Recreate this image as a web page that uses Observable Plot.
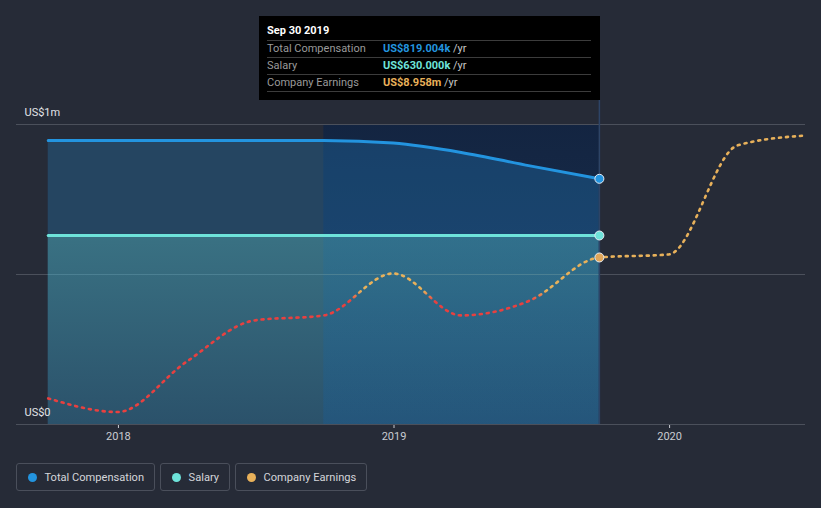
<!DOCTYPE html>
<html>
<head>
<meta charset="utf-8">
<script src="https://cdn.jsdelivr.net/npm/d3@7"></script>
<script src="https://cdn.jsdelivr.net/npm/@observablehq/plot@0.6"></script>
<style>
  html, body { margin: 0; padding: 0; background: #262b37; }
  #wrap { position: relative; width: 821px; height: 508px; font-family: Roboto, "Noto Sans", sans-serif; overflow: hidden; }
  #tip { position: absolute; left: 259px; top: 16px; width: 324px; height: 84px; padding: 0 9px 0 8px; background: #000; font-size: 11px; }
  #tip .title { margin-top: 6px; height: 18px; line-height: 18px; color: #fff; font-weight: bold; border-bottom: 1px solid #3c3c3c; }
  #tip .row { height: 16px; line-height: 16px; border-bottom: 1px solid #3c3c3c; display: flex; white-space: nowrap; }
  #tip .lab { width: 116px; color: #9a9a9a; }
  #tip .val { font-weight: bold; }
  #tip .unit { color: #c8c8c8; }
  #legend { position: absolute; left: 16px; top: 463px; display: flex; gap: 5px; }
  #legend .item { height: 28px; border: 1px solid #4a4f5b; border-radius: 3px; display: flex; align-items: center; padding: 0 10px 0 11px; font-size: 11.1px; color: #d4d6da; box-sizing: border-box; white-space: nowrap; }
  #legend .dot { width: 9px; height: 9px; border-radius: 50%; margin-right: 7.5px; flex: none; }
</style>
</head>
<body>
<div id="wrap">
  <div id="chart"></div>
  <div id="tip"></div>
  <div id="legend"></div>
</div>
<script>
// ---- data ----
const compDates = ["2017-09-30","2017-12-31","2018-03-31","2018-06-30","2018-09-30","2018-12-31","2019-03-31","2019-06-30","2019-09-30"];
const compValues = [947000, 947000, 947000, 947000, 947000, 938000, 907000, 862000, 819004];
const salaryDates = ["2017-09-30","2019-09-30"];
const salaryValues = [630000, 630000];
const earnDates = ["2017-09-30","2017-12-31","2018-03-31","2018-06-30","2018-09-30","2018-12-31","2019-03-31","2019-06-30","2019-09-30","2019-12-31","2020-03-31","2020-06-30"];
const earnValuesM = [1.40, 0.67, 3.33, 5.58, 5.85, 8.10, 5.85, 6.65, 8.958, 9.12, 14.97, 15.50];
const earnAxisMaxM = 16.09;           // earnings axis (US$m) that spans the same height as US$0–US$1m
const earnThresholdM = 6.9;           // colour change (red below, orange above)
const highlightPeriod = ["2018-09-30","2019-09-30"];
const xDomain = ["2017-08-19","2020-06-29"];
const tickYears = ["2018-01-01","2019-01-01","2020-01-01"];
const yGrid = [0, 500000, 1000000];
const yLabelValues = [0, 1000000];
const yLabels = ["US$0", "US$1m"];
const seriesNames = ["Total Compensation", "Salary", "Company Earnings"];
const seriesColors = ["#2394df", "#6ee3da", "#e8b15a"];
const tipDate = "Sep 30 2019";
const tipValues = ["US$819.004k", "US$630.000k", "US$8.958m"];

const D = s => new Date(s + "T00:00:00Z");
const comp = compDates.map((d, i) => ({date: D(d), value: compValues[i]}));
const salary = salaryDates.map((d, i) => ({date: D(d), value: salaryValues[i]}));
const earnFactor = 1000000 / earnAxisMaxM;
const earn = earnDates.map((d, i) => ({date: D(d), value: earnValuesM[i] * earnFactor}));
const band = [{x1: D(highlightPeriod[0]), x2: D(highlightPeriod[1]), y1: 0, y2: 1000000}];
const lastComp = comp[comp.length - 1];
const lastSal = salary[salary.length - 1];
const lastEarn = earn.find(d => +d.date === +lastComp.date);

const defsMark = (index, scales) => {
  const y = scales.y;
  const t = y(earnThresholdM * earnFactor);
  const defs = d3.create("svg:defs");
  const g = defs.append("linearGradient").attr("id", "earnGrad")
    .attr("gradientUnits", "userSpaceOnUse")
    .attr("x1", 0).attr("x2", 0).attr("y1", t - 5).attr("y2", t + 5);
  g.append("stop").attr("offset", 0).attr("stop-color", "#e8b15a");
  g.append("stop").attr("offset", 1).attr("stop-color", "#e8403f");
  const s = defs.append("linearGradient").attr("id", "salGrad")
    .attr("x1", 0).attr("x2", 0).attr("y1", 0).attr("y2", 1);
  s.append("stop").attr("offset", 0).attr("stop-color", "#6ee3da").attr("stop-opacity", 0.28);
  s.append("stop").attr("offset", 1).attr("stop-color", "#6ee3da").attr("stop-opacity", 0.08);
  const b = defs.append("linearGradient").attr("id", "bandGrad")
    .attr("x1", 0).attr("x2", 0).attr("y1", 0).attr("y2", 1);
  b.append("stop").attr("offset", 0).attr("stop-color", "#001e4b").attr("stop-opacity", 0.5);
  b.append("stop").attr("offset", 1).attr("stop-color", "#0a3a7a").attr("stop-opacity", 0.35);
  return defs.node();
};

const chart = Plot.plot({
  width: 821,
  height: 455,
  marginLeft: 16,
  marginRight: 16,
  marginTop: 124,
  marginBottom: 31,
  style: {background: "transparent", color: "#c9ccd2", fontFamily: "Roboto, sans-serif", fontSize: "11px"},
  x: {type: "utc", domain: xDomain.map(D), ticks: tickYears.map(D), tickFormat: "%Y", tickSize: 4, tickPadding: 4, label: null},
  y: {domain: [0, 1000000], axis: null},
  marks: [
    defsMark,
    Plot.rect(band, {x1: "x1", x2: "x2", y1: "y1", y2: "y2", fill: "url(#bandGrad)"}),
    Plot.ruleY(yGrid, {stroke: "#4b505b", strokeWidth: 1}),
    Plot.areaY(comp, {x: "date", y: "value", fill: seriesColors[0], fillOpacity: 0.25, curve: "monotone-x"}),
    Plot.areaY(salary, {x: "date", y: "value", fill: "url(#salGrad)"}),
    Plot.ruleX([lastComp], {x: "date", y1: 0, y2: 1080000, stroke: "#2d4466", strokeWidth: 1.5}),
    Plot.line(earn, {x: "date", y: "value", stroke: "url(#earnGrad)", strokeWidth: 2.6, strokeDasharray: "2 5", curve: "monotone-x"}),
    Plot.line(comp, {x: "date", y: "value", stroke: seriesColors[0], strokeWidth: 3, curve: "monotone-x"}),
    Plot.line(salary, {x: "date", y: "value", stroke: seriesColors[1], strokeWidth: 3}),
    Plot.dot([lastComp], {x: "date", y: "value", r: 4.5, fill: seriesColors[0], stroke: "#e8eef5", strokeWidth: 1}),
    Plot.dot([lastSal], {x: "date", y: "value", r: 4.5, fill: seriesColors[1], stroke: "#e8eef5", strokeWidth: 1}),
    Plot.dot([lastEarn], {x: "date", y: "value", r: 4.5, fill: "#e0a65a", stroke: "#e8eef5", strokeWidth: 1}),
    Plot.text(yLabelValues, {y: d => d, text: (d, i) => yLabels[i], frameAnchor: "left", dx: 8, dy: -12, textAnchor: "start", fill: "#e2e4e8", fontSize: 11})
  ]
});
document.getElementById("chart").appendChild(chart);

// tooltip
const tip = document.getElementById("tip");
let html = `<div class="title">${tipDate}</div>`;
seriesNames.forEach((n, i) => {
  html += `<div class="row"><span class="lab">${n}</span><span class="val" style="color:${seriesColors[i]}">${tipValues[i]}</span><span class="unit">&nbsp;/yr</span></div>`;
});
tip.innerHTML = html;

// legend
const legend = document.getElementById("legend");
seriesNames.forEach((n, i) => {
  const it = document.createElement("div");
  it.className = "item";
  it.innerHTML = `<span class="dot" style="background:${seriesColors[i]}"></span><span>${n}</span>`;
  legend.appendChild(it);
});
</script>
</body>
</html>
